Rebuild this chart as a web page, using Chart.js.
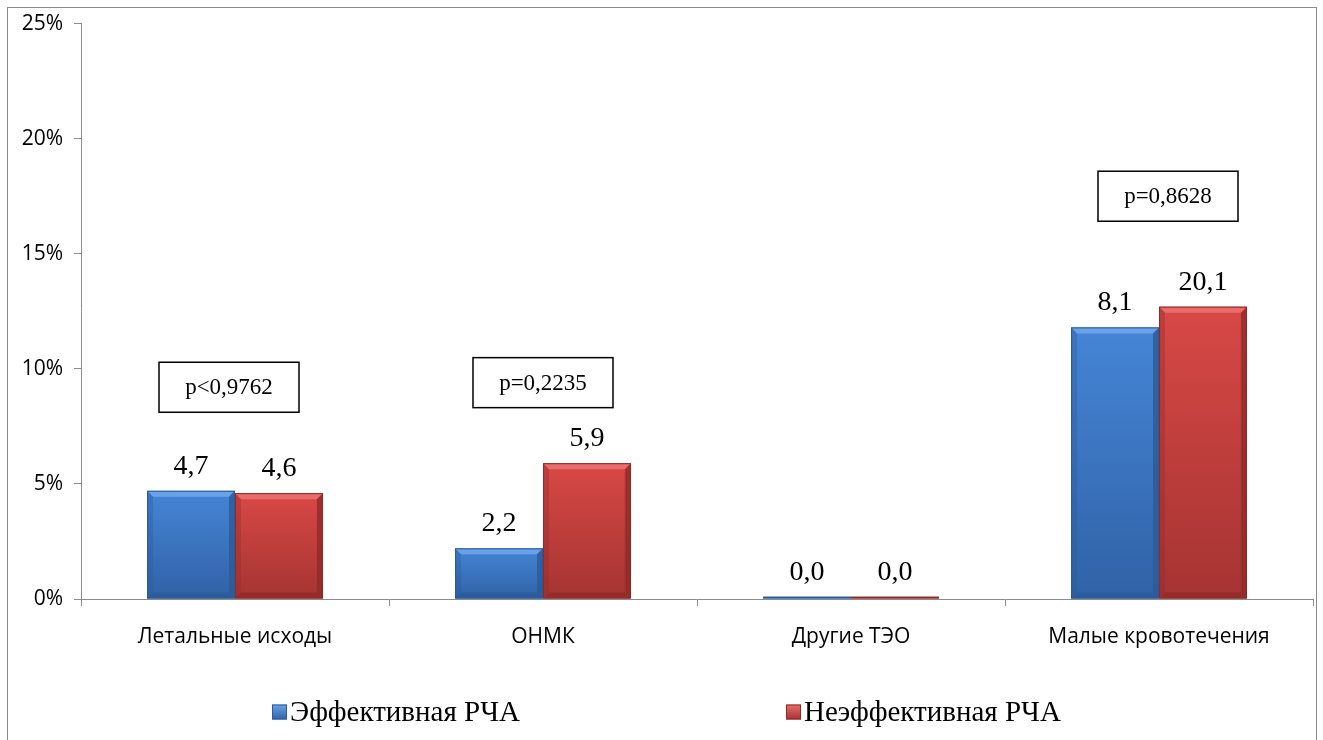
<!DOCTYPE html>
<html>
<head>
<meta charset="utf-8">
<script src="https://cdn.jsdelivr.net/npm/chart.js@4"></script>
<style>
  body { margin: 0; background: #fff; }
  #wrap { position: relative; width: 1323px; height: 740px; overflow: hidden; }
  #frame { position: absolute; left: 7px; top: 7px; width: 1308px; height: 760px; border: 1px solid #8a8a8a; }
  canvas { position: absolute; left: 0; top: 0; }
</style>
</head>
<body>
<div id="wrap">
  <div id="frame"></div>
  <canvas id="chart" width="1323" height="740"></canvas>
</div>
<script>
// data
const categories = ["Летальные исходы", "ОНМК", "Другие ТЭО", "Малые кровотечения"];
const seriesNames = ["Эффективная РЧА", "Неэффективная РЧА"];
const effectiveValues = [4.7, 2.2, 0.1, 11.8];
const ineffectiveValues = [4.6, 5.9, 0.1, 12.7];
const effectiveLabels = ["4,7", "2,2", "0,0", "8,1"];
const ineffectiveLabels = ["4,6", "5,9", "0,0", "20,1"];
const pLabels = ["p<0,9762", "p=0,2235", "", "p=0,8628"];
const yTicks = [0, 5, 10, 15, 20, 25];

const axisGray = "#8c8c8c";
const serif = "'Liberation Serif', 'Times New Roman', serif";

const palette = [
  { top: "#4585d6", bottom: "#3062a6", light: "#6aa2e8", dark: "#2a5a99" },
  { top: "#d84846", bottom: "#a53432", light: "#e86c6a", dark: "#8e2a28" }
];

// bevelled bars, value labels, p-value boxes and legend
const decorPlugin = {
  id: "decor",
  afterDatasetsDraw(chart) {
    const ctx = chart.ctx;
    const texts = [effectiveLabels, ineffectiveLabels];
    chart.data.datasets.forEach(function (ds, di) {
      const meta = chart.getDatasetMeta(di);
      const c = palette[di];
      meta.data.forEach(function (bar, i) {
        const left = bar.x - bar.width / 2;
        const right = bar.x + bar.width / 2;
        const top = bar.y;
        const bottom = bar.base;
        const h = bottom - top;
        const b = Math.min(6, h / 2);
        ctx.save();
        // body gradient
        const g = ctx.createLinearGradient(0, top, 0, bottom);
        g.addColorStop(0, c.top);
        g.addColorStop(1, c.bottom);
        ctx.fillStyle = g;
        ctx.fillRect(left, top, right - left, h);
        if (h > 3) {
          // top bevel
          ctx.fillStyle = c.light;
          ctx.beginPath();
          ctx.moveTo(left, top); ctx.lineTo(right, top);
          ctx.lineTo(right - b, top + b); ctx.lineTo(left + b, top + b);
          ctx.closePath(); ctx.fill();
          // right bevel
          ctx.fillStyle = c.dark;
          ctx.globalAlpha = 0.8;
          ctx.beginPath();
          ctx.moveTo(right, top); ctx.lineTo(right, bottom);
          ctx.lineTo(right - b, bottom - b); ctx.lineTo(right - b, top + b);
          ctx.closePath(); ctx.fill();
          // bottom bevel
          ctx.beginPath();
          ctx.moveTo(left, bottom); ctx.lineTo(right, bottom);
          ctx.lineTo(right - b, bottom - b); ctx.lineTo(left + b, bottom - b);
          ctx.closePath(); ctx.fill();
          // left bevel
          ctx.globalAlpha = 0.35;
          ctx.beginPath();
          ctx.moveTo(left, top); ctx.lineTo(left + b, top + b);
          ctx.lineTo(left + b, bottom - b); ctx.lineTo(left, bottom);
          ctx.closePath(); ctx.fill();
          ctx.globalAlpha = 1;
        }
        ctx.strokeStyle = c.dark;
        ctx.lineWidth = 1;
        ctx.strokeRect(left + 0.5, top + 0.5, right - left - 1, Math.max(h - 1, 0.5));
        // value label
        ctx.fillStyle = "#000";
        ctx.font = "28px " + serif;
        ctx.textAlign = "center";
        ctx.textBaseline = "alphabetic";
        ctx.fillText(texts[di][i], bar.x, top - 17);
        ctx.restore();
      });
    });
  },
  afterDraw(chart) {
    const ctx = chart.ctx;
    const x = chart.scales.x;
    const y = chart.scales.y;
    // p-value boxes
    const boxY = [9.2, 9.4, 0, 17.5];
    const boxDx = [-6, 0, 0, 9];
    ctx.save();
    pLabels.forEach(function (t, i) {
      if (!t) return;
      const cx = x.getPixelForValue(i) + boxDx[i];
      const cy = y.getPixelForValue(boxY[i]);
      const w = 140, h = 50;
      ctx.fillStyle = "#fff";
      ctx.fillRect(cx - w / 2, cy - h / 2, w, h);
      ctx.strokeStyle = "#000";
      ctx.lineWidth = 1.5;
      ctx.strokeRect(cx - w / 2, cy - h / 2, w, h);
      ctx.fillStyle = "#000";
      ctx.font = "23px " + serif;
      ctx.textAlign = "center";
      ctx.textBaseline = "middle";
      ctx.fillText(t, cx, cy + 1);
    });
    // legend
    const legendX = [272, 786];
    const legendY = 712;
    seriesNames.forEach(function (name, i) {
      const c = palette[i];
      const lx = legendX[i];
      const s = 15;
      const g = ctx.createLinearGradient(0, legendY - s / 2, 0, legendY + s / 2);
      g.addColorStop(0, c.light);
      g.addColorStop(1, c.bottom);
      ctx.fillStyle = g;
      ctx.fillRect(lx, legendY - s / 2, s, s);
      ctx.strokeStyle = c.dark;
      ctx.lineWidth = 1;
      ctx.strokeRect(lx + 0.5, legendY - s / 2 + 0.5, s - 1, s - 1);
      ctx.fillStyle = "#000";
      ctx.font = "29px " + serif;
      ctx.textAlign = "left";
      ctx.textBaseline = "middle";
      ctx.fillText(name, lx + s + 3, legendY + 1);
    });
    ctx.restore();
  }
};

const ctx = document.getElementById("chart").getContext("2d");
const myChart = new Chart(ctx, {
  type: "bar",
  data: {
    labels: categories,
    datasets: [
      {
        label: seriesNames[0],
        data: effectiveValues,
        backgroundColor: "rgba(0,0,0,0)",
        borderWidth: 0,
      },
      {
        label: seriesNames[1],
        data: ineffectiveValues,
        backgroundColor: "rgba(0,0,0,0)",
        borderWidth: 0,
      },
    ],
  },
  options: {
    responsive: false,
    animation: false,
    layout: { padding: { top: 22, right: 10, left: 0, bottom: 0 } },
    categoryPercentage: 0.571,
    barPercentage: 1.0,
    plugins: {
      legend: { display: false },
      tooltip: { enabled: false },
    },
    scales: {
      x: {
        grid: {
          drawOnChartArea: false,
          color: axisGray,
          tickLength: 7,
          offset: true,
        },
        border: { color: axisGray, width: 1 },
        ticks: {
          color: "#000",
          font: { family: "'Open Sans', sans-serif", size: 21 },
          padding: 18,
          maxRotation: 0,
        },
        afterFit(scale) {
          scale.height = 141;
        },
      },
      y: {
        min: 0,
        max: 25,
        afterBuildTicks(scale) {
          scale.ticks = yTicks.map(function (v) { return { value: v }; });
        },
        grid: {
          drawOnChartArea: false,
          color: axisGray,
          tickLength: 7,
        },
        border: { color: axisGray, width: 1 },
        ticks: {
          color: "#000",
          font: { family: "'Open Sans', sans-serif", size: 21 },
          padding: 11,
          callback: function (v) { return v + "%"; },
        },
        afterFit(scale) {
          scale.width = 81;
        },
      },
    },
  },
  plugins: [decorPlugin],
});
</script>
</body>
</html>
